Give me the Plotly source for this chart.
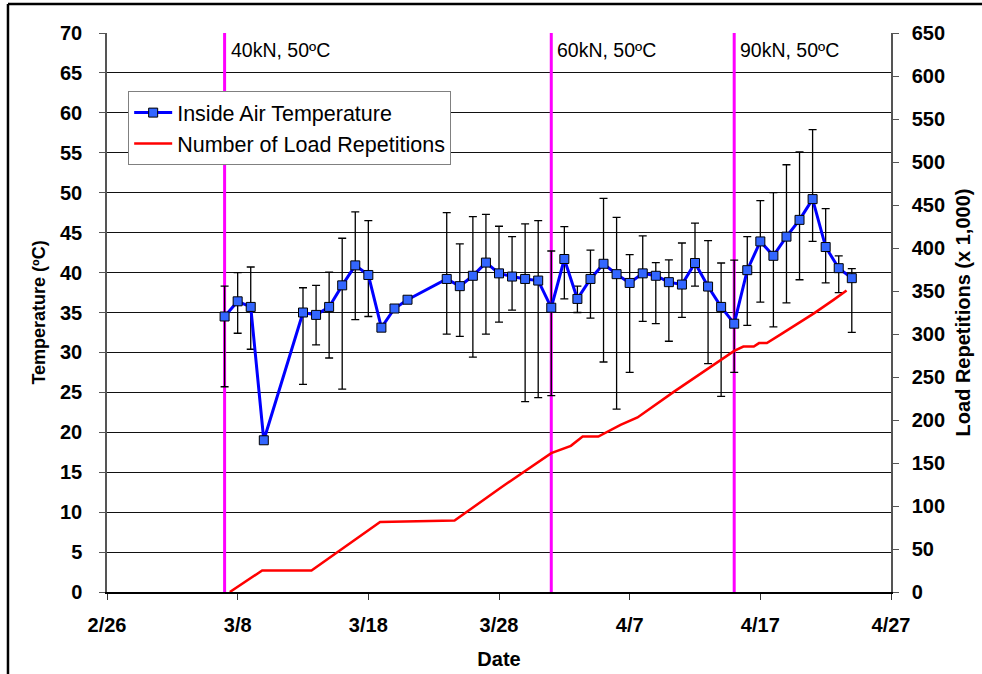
import plotly.graph_objects as go

# ---------------- data ----------------
temp_dates = [
    "2003-03-07", "2003-03-08", "2003-03-09", "2003-03-10", "2003-03-13", "2003-03-14",
    "2003-03-15", "2003-03-16", "2003-03-17", "2003-03-18", "2003-03-19", "2003-03-20",
    "2003-03-21", "2003-03-24", "2003-03-25", "2003-03-26", "2003-03-27", "2003-03-28",
    "2003-03-29", "2003-03-30", "2003-03-31", "2003-04-01", "2003-04-02", "2003-04-03",
    "2003-04-04", "2003-04-05", "2003-04-06", "2003-04-07", "2003-04-08", "2003-04-09",
    "2003-04-10", "2003-04-11", "2003-04-12", "2003-04-13", "2003-04-14", "2003-04-15",
    "2003-04-16", "2003-04-17", "2003-04-18", "2003-04-19", "2003-04-20", "2003-04-21",
    "2003-04-22", "2003-04-23", "2003-04-24",
]
temp_mean = [
    34.5, 36.4, 35.7, 19.0, 35.0, 34.7,
    35.7, 38.4, 40.9, 39.7, 33.1, 35.5,
    36.6, 39.2, 38.3, 39.6, 41.25, 39.9,
    39.5, 39.2, 39.0, 35.6, 41.7, 36.7,
    39.2, 41.1, 39.8, 38.7, 39.9, 39.6,
    38.8, 38.5, 41.2, 38.25, 35.7, 33.6,
    40.3, 43.9, 42.1, 44.5, 46.6, 49.2,
    43.2, 40.55, 39.3,
]
temp_max = [
    38.3, 40.0, 40.7, None, 38.1, 38.4,
    40.05, 44.3, 47.6, 46.5, None, None,
    None, 47.5, 43.6, 47.0, 47.3, 45.8,
    44.5, 46.1, 46.5, 42.7, 45.75, 38.3,
    42.8, 49.3, 46.9, 42.25, 44.6, 41.25,
    41.6, 43.7, 46.2, 44.0, 41.2, 41.55,
    44.5, 49.0, 50.0, 53.5, 55.1, 57.9,
    48.0, 42.1, 40.5,
]
temp_min = [
    25.7, 32.4, 30.4, None, 26.0, 30.95,
    29.3, 25.4, 34.1, 34.5, None, None,
    None, 32.3, 32.0, 29.4, 32.3, 33.8,
    35.3, 23.85, 24.35, 24.6, 36.7, 35.0,
    34.3, 28.8, 22.9, 27.5, 33.9, 33.6,
    31.4, 34.4, 38.3, 28.6, 24.5, 27.5,
    33.4, 36.3, 33.2, 36.2, 39.1, 43.9,
    38.7, 37.5, 32.5,
]

load_dates = [
    "2003-03-07 09:36", "2003-03-09 21:00", "2003-03-13 15:36", "2003-03-18 21:36",
    "2003-03-24 14:24", "2003-03-28 02:24", "2003-04-01 00:00", "2003-04-02 12:00",
    "2003-04-03 09:36", "2003-04-04 14:24", "2003-04-06 07:12", "2003-04-07 14:24",
    "2003-04-10 09:36", "2003-04-13 09:36", "2003-04-15 00:00", "2003-04-15 16:48",
    "2003-04-16 12:00", "2003-04-16 21:36", "2003-04-17 12:00", "2003-04-18 12:00",
    "2003-04-21 02:24", "2003-04-22 14:24", "2003-04-23 14:24",
]
load_reps = [
    0, 25, 25, 81.5,
    83, 121, 161.5, 170,
    180.8, 180.8, 194.4, 203,
    233, 264, 280.4, 285.4,
    285.4, 289.4, 289.4, 299,
    324, 339.7, 350.5,
]

phase_dates = ["2003-03-07", "2003-04-01", "2003-04-15"]
phase_labels = ["40kN, 50ºC", "60kN, 50ºC", "90kN, 50ºC"]

x_tickvals = ["2003-02-26", "2003-03-08", "2003-03-18", "2003-03-28",
              "2003-04-07", "2003-04-17", "2003-04-27"]
x_ticktext = ["2/26", "3/8", "3/18", "3/28", "4/7", "4/17", "4/27"]

# ---------------- derived error arrays ----------------
err_x, err_y, err_plus, err_minus = [], [], [], []
for d, m, hi, lo in zip(temp_dates, temp_mean, temp_max, temp_min):
    if hi is not None and lo is not None:
        err_x.append(d)
        err_y.append(m)
        err_plus.append(hi - m)
        err_minus.append(m - lo)

FONT = "Arial, 'Liberation Sans', sans-serif"

fig = go.Figure()

# error bars (drawn beneath the markers)
fig.add_trace(go.Scatter(
    x=err_x, y=err_y, mode="markers", showlegend=False, hoverinfo="skip",
    marker=dict(size=1, color="rgba(0,0,0,0)"),
    error_y=dict(type="data", symmetric=False, array=err_plus, arrayminus=err_minus,
                 color="black", thickness=1.3, width=4),
))

fig.add_trace(go.Scatter(
    x=temp_dates, y=temp_mean, mode="lines+markers", name="Inside Air Temperature",
    line=dict(color="#0000FF", width=3),
    marker=dict(symbol="square", size=9, color="#3366FF",
                line=dict(color="black", width=1)),
    legendrank=1,
))

fig.add_trace(go.Scatter(
    x=load_dates, y=load_reps, mode="lines", name="Number of Load Repetitions",
    line=dict(color="#FF0000", width=2.5), yaxis="y2",
    legendrank=2,
))

shapes = []
annotations = []
for d, lab in zip(phase_dates, phase_labels):
    shapes.append(dict(type="line", xref="x", yref="y", x0=d, x1=d, y0=-0.7, y1=70,
                       line=dict(color="#FF00FF", width=3), layer="between"))
    annotations.append(dict(x=d, y=67.9, xref="x", yref="y", text=lab, showarrow=False,
                            xanchor="left", yanchor="middle", xshift=4,
                            font=dict(family=FONT, size=19.5, color="black")))

# outer frame (top and left edges)
shapes.append(dict(type="line", xref="paper", yref="paper", x0=-0.1263, x1=1.12,
                   y0=1.0519, y1=1.0519, line=dict(color="black", width=2.5)))
shapes.append(dict(type="line", xref="paper", yref="paper", x0=-0.1263, x1=-0.1263,
                   y0=-0.16, y1=1.0519, line=dict(color="black", width=2.5)))

tickfont = dict(family=FONT, size=20, color="black", weight="bold")

fig.update_layout(
    width=982, height=674,
    margin=dict(l=107, r=91, t=33, b=82),
    paper_bgcolor="white", plot_bgcolor="white",
    font=dict(family=FONT, color="black"),
    shapes=shapes, annotations=annotations,
    showlegend=True,
    legend=dict(x=0.027, y=0.896, xanchor="left", yanchor="top",
                bgcolor="white", bordercolor="#808080", borderwidth=1,
                font=dict(family=FONT, size=21.5, color="black"),
                tracegroupgap=0, itemwidth=38),
    xaxis=dict(
        type="date", range=["2003-02-26", "2003-04-27"], automargin=False,
        tickvals=x_tickvals, ticktext=x_ticktext,
        ticks="outside", ticklen=6, tickcolor="#333", tickwidth=1,
        showline=True, linecolor="black", linewidth=1.5,
        showgrid=False, zeroline=False, tickfont=tickfont,
        ticklabelstandoff=8,
        title=dict(text="Date", font=dict(family=FONT, size=20, color="black", weight="bold"),
                   standoff=17),
    ),
    yaxis=dict(
        range=[0, 70], dtick=5, tick0=0, automargin=False,
        ticks="outside", ticklen=6, tickcolor="#555", tickwidth=1,
        showline=True, linecolor="#555", linewidth=1.5,
        showgrid=True, gridcolor="#111", gridwidth=1, zeroline=False,
        tickfont=tickfont, ticklabelstandoff=13,
        title=dict(text="Temperature (ºC)",
                   font=dict(family=FONT, size=18, color="black", weight="bold"), standoff=10),
    ),
    yaxis2=dict(
        range=[0, 650], dtick=50, tick0=0, overlaying="y", side="right", automargin=False,
        ticks="outside", ticklen=6, tickcolor="#555", tickwidth=1,
        showline=True, linecolor="#555", linewidth=1.5,
        showgrid=False, zeroline=False,
        tickfont=tickfont, ticklabelstandoff=9,
        title=dict(text="Load Repetitions (x 1,000)",
                   font=dict(family=FONT, size=20, color="black", weight="bold"), standoff=12),
    ),
)

fig.write_html(
    "out.html",
    config={"displayModeBar": False},
    post_script=("document.body.style.margin='0px';document.body.style.overflow='hidden';"
                 "document.documentElement.style.overflow='hidden';"),
)
